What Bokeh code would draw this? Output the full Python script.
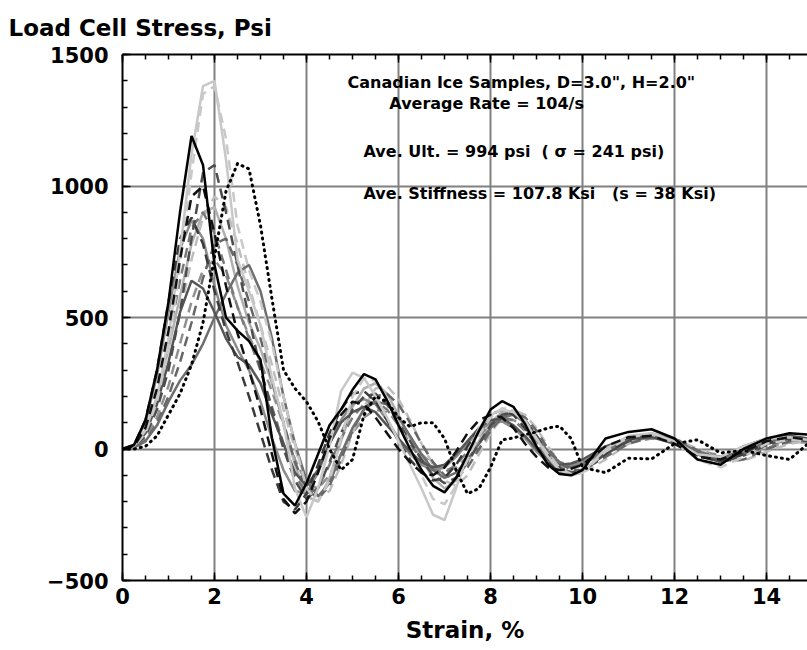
from bokeh.plotting import figure
from bokeh.models import Label, LinearAxis, SingleIntervalTicker, Range1d
from bokeh.embed import file_html
from bokeh.resources import INLINE

# ---- data ----
strain = [0, 0.25, 0.5, 0.75, 1.0, 1.25, 1.5, 1.75, 2.0, 2.25, 2.5, 2.75, 3.0, 3.25, 3.5, 3.75,
          4.0, 4.25, 4.5, 4.75, 5.0, 5.25, 5.5, 5.75, 6.0, 6.25, 6.5, 6.75, 7.0, 7.25, 7.5, 7.75,
          8.0, 8.25, 8.5, 8.75, 9.0, 9.25, 9.5, 9.75, 10.0, 10.5, 11.0, 11.5, 12.0, 12.5, 13.0,
          13.5, 14.0, 14.5, 14.9]

stress_a = [0, 15, 110, 300, 560, 900, 1190, 1080, 700, 500, 450, 410, 340, 40, -170, -215, -130, -20, 90, 150,
            225, 285, 265, 185, 90, 0, -80, -140, -165, -110, -20, 70, 150, 182, 160, 95, 10, -60, -95, -100,
            -80, 40, 65, 75, 40, -40, -60, 0, 40, 60, 55]
stress_b = [0, 10, 80, 230, 450, 720, 960, 1000, 820, 620, 440, 300, 150, -20, -190, -245, -200, -90, 40, 130,
            180, 170, 120, 60, 0, -50, -90, -100, -70, -10, 60, 110, 130, 120, 80, 20, -30, -70, -80, -75,
            -60, 10, 45, 50, 20, -30, -40, -10, 30, 45, 35]
stress_c = [0, 10, 70, 200, 420, 750, 1120, 1380, 1400, 1100, 720, 600, 470, 270, 100, -150, -260, -150, 10, 220,
            290, 270, 200, 120, 30, -60, -150, -250, -270, -150, -20, 80, 130, 150, 140, 100, 40, -30, -80, -100,
            -90, 0, 50, 60, 30, -20, -30, 10, 40, 45, 35]
stress_d = [0, 8, 60, 180, 380, 700, 1050, 1350, 1380, 1180, 850, 680, 560, 400, 200, 20, -150, -200, -120, 40,
            200, 270, 260, 190, 100, 0, -100, -190, -210, -140, -40, 50, 120, 155, 150, 110, 40, -20, -70, -95,
            -90, -10, 45, 55, 25, -40, -70, -30, 20, 35, 30]
stress_e = [0, 0, 10, 50, 130, 210, 320, 480, 730, 980, 1085, 1065, 850, 570, 300, 230, 180, 105, 0, -80,
            -40, 130, 200, 180, 120, 85, 100, 100, 40, -80, -170, -150, -70, 35, 42, 55, 65, 80, 87, 40,
            -70, -90, -35, -38, 20, 35, -15, -5, -25, -40, 20]
stress_f = [0, 10, 60, 170, 330, 520, 640, 610, 520, 420, 350, 320, 250, 130, 20, -90, -140, -80, 20, 100,
            140, 160, 140, 90, 40, -10, -50, -70, -60, -20, 30, 80, 110, 115, 90, 50, 0, -40, -60, -55,
            -40, 10, 40, 45, 20, -20, -35, 10, 40, 50, 40]
stress_g = [0, 5, 30, 90, 180, 260, 320, 400, 500, 590, 670, 700, 600, 420, 200, 20, -120, -180, -130, -20,
            80, 150, 180, 170, 120, 50, -20, -80, -110, -90, -40, 20, 80, 120, 130, 100, 50, -10, -50, -70,
            -60, 0, 40, 55, 35, -10, -40, -15, 25, 45, 40]
stress_h = [0, 8, 50, 150, 300, 520, 800, 1050, 1080, 900, 700, 500, 300, 150, 0, -120, -190, -150, -50, 60,
            150, 200, 210, 170, 100, 30, -40, -100, -130, -110, -50, 20, 90, 130, 140, 110, 50, -20, -70, -90,
            -80, -20, 30, 50, 30, -20, -50, -25, 15, 35, 30]
stress_i = [0, 10, 70, 200, 380, 580, 780, 900, 920, 800, 620, 480, 380, 250, 100, -60, -180, -200, -110, 30,
            160, 230, 250, 210, 130, 40, -40, -110, -150, -120, -50, 30, 100, 140, 145, 110, 50, -20, -70, -90,
            -85, -10, 40, 60, 35, -20, -45, -10, 30, 45, 40]
stress_j = [0, 12, 80, 220, 420, 640, 840, 900, 820, 680, 540, 420, 300, 160, 20, -100, -170, -150, -60, 40,
            120, 170, 180, 150, 90, 20, -40, -80, -90, -60, -10, 50, 100, 120, 110, 70, 20, -30, -60, -70,
            -60, -10, 30, 45, 30, -10, -30, -10, 20, 35, 30]
stress_k = [0, 15, 100, 280, 520, 760, 870, 800, 620, 470, 380, 300, 180, 40, -80, -160, -170, -90, 20, 110,
            170, 190, 170, 110, 40, -20, -60, -80, -70, -30, 20, 70, 100, 105, 80, 40, -10, -50, -70, -65,
            -50, 0, 35, 45, 25, -15, -30, -5, 25, 40, 35]
stress_l = [0, 5, 30, 100, 200, 330, 480, 650, 780, 800, 700, 560, 420, 260, 100, -50, -150, -190, -140, -40,
            70, 150, 200, 210, 170, 100, 20, -50, -100, -110, -70, 0, 70, 120, 140, 120, 70, 0, -50, -80,
            -80, -30, 20, 45, 40, -5, -45, -40, 0, 30, 35]
stress_m = [0, 15, 110, 300, 560, 800, 880, 780, 600, 450, 330, 200, 60, -80, -200, -230, -170, -60, 60, 150,
            210, 220, 180, 110, 30, -40, -90, -120, -110, -60, 10, 80, 130, 150, 130, 80, 10, -50, -90, -100,
            -85, -20, 35, 55, 30, -25, -50, -20, 20, 40, 30]
stress_n = [0, 8, 55, 160, 320, 520, 720, 880, 960, 920, 780, 620, 470, 320, 150, 0, -120, -180, -160, -60,
            60, 160, 230, 240, 190, 110, 20, -60, -120, -140, -100, -20, 60, 120, 150, 130, 80, 10, -50, -85,
            -90, -40, 20, 50, 40, 0, -40, -45, -10, 20, 30]
stress_o = [0, 5, 40, 120, 240, 400, 560, 680, 720, 660, 540, 430, 330, 220, 90, -40, -130, -150, -100, -20,
            60, 120, 150, 140, 100, 40, -20, -60, -80, -70, -30, 30, 80, 110, 110, 80, 30, -20, -50, -60,
            -55, -15, 25, 40, 30, -5, -25, -20, 5, 25, 25]

x_ticks_interval = 2
y_ticks_interval = 500
title_text = "Load Cell Stress, Psi"
x_label = "Strain, %"
notes = ['Canadian Ice Samples, D=3.0", H=2.0"',
         'Average Rate = 104/s',
         'Ave. Ult. = 994 psi \u00a0( \u03c3 = 241 psi)',
         'Ave. Stiffness = 107.8 Ksi \u00a0 (s = 38 Ksi)']

FONT = "DejaVu Sans"

p = figure(width=807, height=650, x_range=Range1d(0, 14.89), y_range=Range1d(-500, 1500),
           output_backend="svg", toolbar_location=None,
           min_border_left=122, min_border_right=0, min_border_top=54, min_border_bottom=70)
p.outline_line_color = None
p.background_fill_color = "white"

# axis title shown at the top-left, as in the reference
p.title.text = title_text
p.title.align = "left"
p.title.vertical_align = "top"
p.title.offset = -114
p.title.standoff = 24
p.title.text_font = FONT
p.title.text_font_style = "bold"
p.title.text_font_size = "23px"
p.title.text_color = "black"

xt = SingleIntervalTicker(interval=x_ticks_interval, num_minor_ticks=4)
yt = SingleIntervalTicker(interval=y_ticks_interval, num_minor_ticks=5)
p.xaxis.ticker = xt
p.yaxis.ticker = yt
p.xgrid.ticker = xt
p.ygrid.ticker = yt
p.grid.grid_line_color = "#808080"
p.grid.grid_line_width = 2

for ax in (p.xaxis[0], p.yaxis[0]):
    ax.axis_line_color = "black"
    ax.axis_line_width = 2
    ax.major_tick_in = 8
    ax.major_tick_out = 0
    ax.minor_tick_in = 5
    ax.minor_tick_out = 0
    ax.major_tick_line_width = 1.5
    ax.minor_tick_line_width = 1.5
    ax.major_label_text_font = FONT
    ax.major_label_text_font_style = "bold"
    ax.major_label_text_font_size = "21px"
    ax.major_label_text_color = "black"

p.yaxis.major_label_standoff = 14
p.xaxis.major_label_standoff = 7
p.xaxis.axis_label = x_label
p.xaxis.axis_label_text_font = FONT
p.xaxis.axis_label_text_font_style = "bold"
p.xaxis.axis_label_text_font_size = "23px"
p.xaxis.axis_label_standoff = 10
p.xaxis.axis_label_text_color = "black"

top = LinearAxis(ticker=SingleIntervalTicker(interval=x_ticks_interval, num_minor_ticks=4),
                 major_label_text_color=None, major_label_text_font_size="1px",
                 major_tick_in=8, major_tick_out=0,
                 minor_tick_in=5, minor_tick_out=0, axis_line_width=2,
                 major_tick_line_width=1.5, minor_tick_line_width=1.5, major_label_standoff=0)
p.add_layout(top, "above")

series = [
    (stress_o, "#909090", "dashed"),
    (stress_n, "#bdbdbd", "dashed"),
    (stress_i, "#b0b0b0", "solid"),
    (stress_k, "#8c8c8c", "solid"),
    (stress_j, "#7a7a7a", "dashed"),
    (stress_l, "#666666", "dashed"),
    (stress_g, "#6e6e6e", "solid"),
    (stress_f, "#555555", "solid"),
    (stress_m, "#3a3a3a", "dashed"),
    (stress_h, "#4d4d4d", "dashed"),
    (stress_d, "#c8c8c8", "dashed"),
    (stress_c, "#c8c8c8", "solid"),
    (stress_b, "#111111", "dashed"),
    (stress_a, "#000000", "solid"),
    (stress_e, "#000000", "dotted"),
]
for ys, col, style in series:
    xs = strain[:len(ys)]
    if style == "solid":
        p.line(xs, ys, line_color=col, line_width=2.5)
    elif style == "dashed":
        p.line(xs, ys, line_color=col, line_width=2.5, line_dash="10 6")
    else:
        p.line(xs, ys, line_color=col, line_width=3, line_dash="1 5", line_cap="round")

note_pos = [(4.89, 1392), (5.80, 1312), (5.24, 1133), (5.24, 970)]
for (nx, ny), t in zip(note_pos, notes):
    p.add_layout(Label(x=nx, y=ny, text=t, text_font=FONT, text_font_style="bold",
                       text_font_size="16px", text_color="black", text_baseline="alphabetic"))

open("out.html", "w").write(file_html(p, INLINE))
